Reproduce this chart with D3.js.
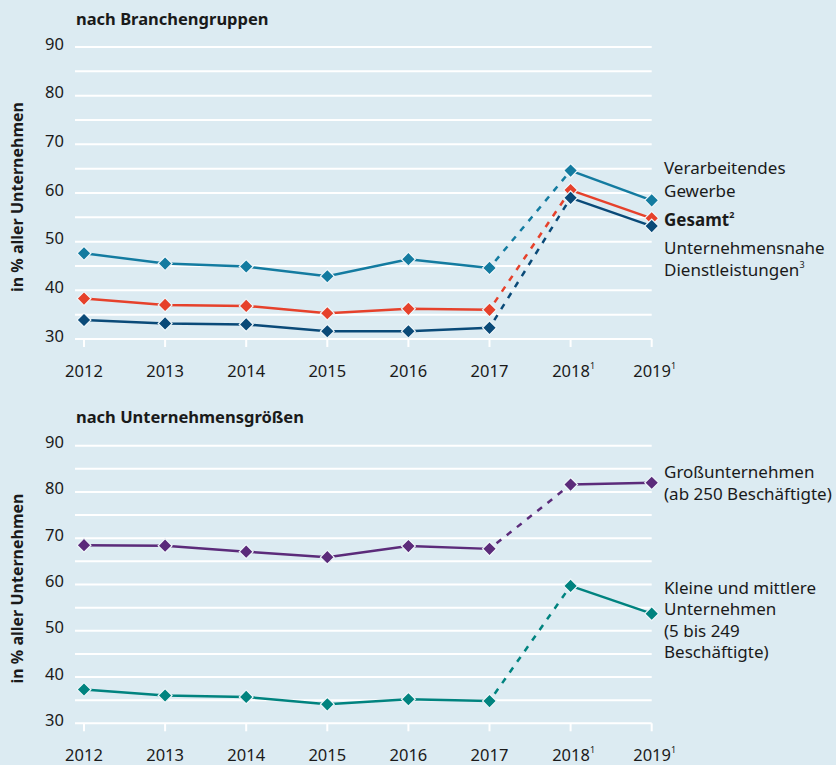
<!DOCTYPE html>
<html>
<head>
<meta charset="utf-8">
<script src="https://cdn.jsdelivr.net/npm/d3@7"></script>
<style>
  body { margin: 0; background: #dcebf2; }
  svg { display: block; font-family: "Noto Sans", "Open Sans", sans-serif; }
</style>
</head>
<body>
<script>
var years = ['2012', '2013', '2014', '2015', '2016', '2017', '2018', '2019'];
var yearNotes = ['', '', '', '', '', '', '1', '1'];
var yTicks = [30, 40, 50, 60, 70, 80, 90];

var verarbeitendes = [47.6, 45.5, 44.9, 42.9, 46.4, 44.6, 64.6, 58.5];
var gesamt = [38.3, 37.0, 36.8, 35.3, 36.2, 36.0, 60.6, 54.8];
var dienstleistungen = [33.9, 33.2, 33.0, 31.6, 31.6, 32.3, 59.0, 53.2];

var gross = [68.5, 68.4, 67.1, 65.9, 68.3, 67.7, 81.6, 82.0];
var kmu = [37.3, 36.0, 35.7, 34.1, 35.2, 34.8, 59.7, 53.7];

var width = 836, height = 765;

var svg = d3.select('body').append('svg')
  .attr('width', width)
  .attr('height', height);

svg.append('rect').attr('width', width).attr('height', height).attr('fill', '#dcebf2');

var x = d3.scalePoint().domain(years).range([84, 651.7]);

function panel(opts) {
  var y = d3.scaleLinear().domain([30, 90]).range([opts.bottom, opts.top]);
  var g = svg.append('g');

  // title
  g.append('text')
    .attr('x', 76).attr('y', opts.top - 29)
    .attr('dominant-baseline', 'central')
    .attr('font-size', 16.5).attr('font-weight', 'bold').attr('fill', '#1a1a1a')
    .text(opts.title);

  // axis label
  g.append('text')
    .attr('transform', 'translate(17,' + ((opts.top + opts.bottom) / 2 + 4) + ') rotate(-90)')
    .attr('text-anchor', 'middle').attr('dominant-baseline', 'central')
    .attr('font-size', 16).attr('font-weight', 'bold').attr('fill', '#1a1a1a')
    .text('in % aller Unternehmen');

  // gridlines every 5
  g.selectAll('line.grid')
    .data(d3.range(30, 91, 5))
    .enter().append('line')
      .attr('x1', 75).attr('x2', x('2019'))
      .attr('y1', function(d) { return y(d); })
      .attr('y2', function(d) { return y(d); })
      .attr('stroke', '#fff').attr('stroke-width', 2);

  // ticks
  g.selectAll('line.tick')
    .data(years)
    .enter().append('line')
      .attr('x1', function(d) { return x(d); })
      .attr('x2', function(d) { return x(d); })
      .attr('y1', opts.bottom).attr('y2', opts.bottom + 8)
      .attr('stroke', '#fff').attr('stroke-width', 2);

  g.selectAll('text.ylab')
    .data(yTicks)
    .enter().append('text')
      .attr('x', 64).attr('y', function(d) { return y(d) - 4; })
      .attr('text-anchor', 'end').attr('dominant-baseline', 'central')
      .attr('font-size', 16.5).attr('fill', '#1a1a1a')
      .text(function(d) { return d; });

  var xl = g.selectAll('text.xlab')
    .data(years)
    .enter().append('text')
      .attr('x', function(d, i) { return x(d) + (yearNotes[i] ? 3 : 0); })
      .attr('y', opts.bottom + 31)
      .attr('text-anchor', 'middle').attr('dominant-baseline', 'central')
      .attr('font-size', 16.5).attr('fill', '#1a1a1a');
  xl.append('tspan').text(function(d) { return d; });
  xl.append('tspan')
    .attr('font-size', 9).attr('dy', -5)
    .text(function(d, i) { return yearNotes[i]; });

  var line = d3.line()
    .x(function(d) { return x(d.year); })
    .y(function(d) { return y(d.value); });

  opts.series.forEach(function(s) {
    var pts = years.map(function(yr, i) { return { year: yr, value: s.values[i] }; });
    var sg = g.append('g');
    sg.append('path').datum(pts.slice(0, 6)).attr('d', line)
      .attr('fill', 'none').attr('stroke', s.color).attr('stroke-width', 2.5);
    sg.append('path').datum(pts.slice(5, 7)).attr('d', line)
      .attr('fill', 'none').attr('stroke', s.color).attr('stroke-width', 2.5)
      .attr('stroke-dasharray', '6,7').attr('stroke-dashoffset', -9);
    sg.append('path').datum(pts.slice(6)).attr('d', line)
      .attr('fill', 'none').attr('stroke', s.color).attr('stroke-width', 2.5);
    sg.selectAll('path.pt')
      .data(pts)
      .enter().append('path')
        .attr('d', d3.symbol(d3.symbolSquare, 96))
        .attr('transform', function(d) { return 'translate(' + x(d.year) + ',' + y(d.value) + ') rotate(45)'; })
        .attr('fill', s.color)
        .attr('stroke', '#eef6fa').attr('stroke-width', 1.2);
  });

  opts.labels.forEach(function(l) {
    var t = g.append('text')
      .attr('x', 664).attr('y', l.y)
      .attr('dominant-baseline', 'central')
      .attr('font-size', 17).attr('fill', '#1a1a1a')
      .attr('font-weight', l.bold ? 'bold' : 'normal');
    t.append('tspan').text(l.text);
    if (l.note) {
      t.append('tspan').attr('font-size', 9).attr('dy', -5).text(l.note);
    }
  });
}

panel({
  title: 'nach Branchengruppen',
  top: 47, bottom: 339,
  series: [
    { values: verarbeitendes, color: '#137ba0' },
    { values: gesamt, color: '#e6412b' },
    { values: dienstleistungen, color: '#0a4a78' }
  ],
  labels: [
    { text: 'Verarbeitendes', y: 167 },
    { text: 'Gewerbe', y: 190 },
    { text: 'Gesamt', y: 219, bold: true, note: '2' },
    { text: 'Unternehmensnahe', y: 247 },
    { text: 'Dienstleistungen', y: 269, note: '3' }
  ]
});

panel({
  title: 'nach Unternehmensgrößen',
  top: 445.7, bottom: 723.3,
  series: [
    { values: gross, color: '#5b2b7a' },
    { values: kmu, color: '#00837f' }
  ],
  labels: [
    { text: 'Großunternehmen', y: 471 },
    { text: '(ab 250 Beschäftigte)', y: 493 },
    { text: 'Kleine und mittlere', y: 587 },
    { text: 'Unternehmen', y: 608 },
    { text: '(5 bis 249', y: 630 },
    { text: 'Beschäftigte)', y: 651 }
  ]
});
</script>
</body>
</html>
